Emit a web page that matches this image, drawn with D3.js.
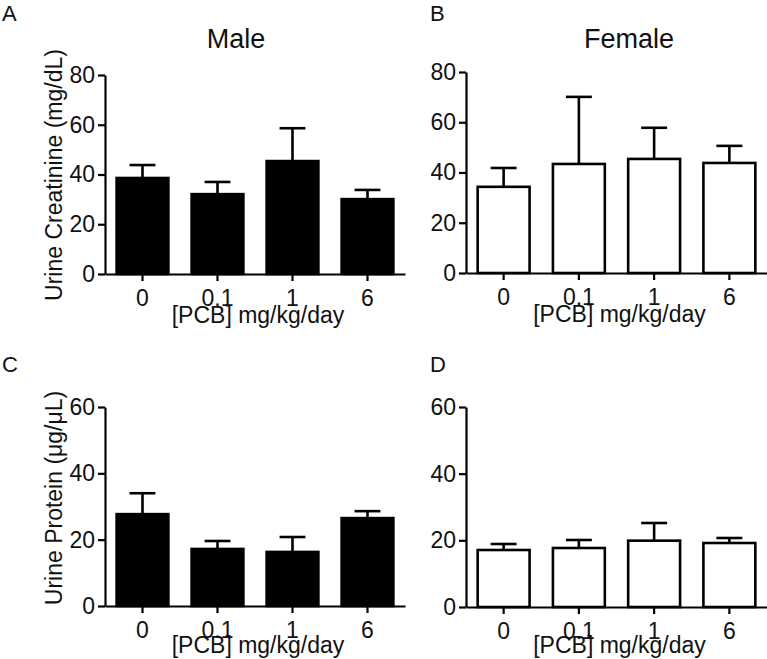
<!DOCTYPE html>
<html>
<head>
<meta charset="utf-8">
<script src="https://cdn.jsdelivr.net/npm/d3@7"></script>
<style>
  html, body { margin: 0; padding: 0; background: #fff; }
  svg { display: block; font-family: "Liberation Sans", Arial, Helvetica, sans-serif; }
</style>
</head>
<body>
<svg id="chart" width="767" height="659"></svg>
<script>
// ---- data ----
const doses = ["0", "0.1", "1", "6"];
const maleCreatinine = [38.6, 32.1, 45.4, 30.1];
const maleCreatinineSEM = [5.2, 4.9, 13.2, 3.7];
const femaleCreatinine = [34.3, 43.4, 45.4, 43.8];
const femaleCreatinineSEM = [7.5, 26.7, 12.4, 6.8];
const maleProtein = [27.7, 17.2, 16.3, 26.5];
const maleProteinSEM = [6.3, 2.4, 4.5, 2.1];
const femaleProtein = [17.1, 17.7, 19.9, 19.2];
const femaleProteinSEM = [1.8, 2.4, 5.3, 1.5];
const creatinineTicks = [0, 20, 40, 60, 80];
const proteinTicks = [0, 20, 40, 60];
const xTitle = "[PCB] mg/kg/day";

const svg = d3.select("#chart");
const FS = 23;

const panels = [
  { letter: "A", lx: 2, ly: 21, title: "Male", tx: 236, ty: 48,
    values: maleCreatinine, sem: maleCreatinineSEM, ticks: creatinineTicks, ymax: 80,
    x0: 105, x1: 405, y0: 274, y1: 75, fill: "#000", xtOff: 49,
    ytitle: "Urine Creatinine (mg/dL)", ytx: 62, yty: 175 },
  { letter: "B", lx: 430, ly: 21, title: "Female", tx: 629, ty: 48,
    values: femaleCreatinine, sem: femaleCreatinineSEM, ticks: creatinineTicks, ymax: 80,
    x0: 466, x1: 767, y0: 273, y1: 72, fill: "#fff", xtOff: 49, ytitle: null },
  { letter: "C", lx: 2, ly: 372, title: null,
    values: maleProtein, sem: maleProteinSEM, ticks: proteinTicks, ymax: 60,
    x0: 105, x1: 405, y0: 606, y1: 407, fill: "#000", xtOff: 47,
    ytitle: "Urine Protein (\u03BCg/\u03BCL)", ytx: 62, yty: 498 },
  { letter: "D", lx: 430, ly: 372, title: null,
    values: femaleProtein, sem: femaleProteinSEM, ticks: proteinTicks, ymax: 60,
    x0: 466, x1: 767, y0: 607, y1: 407, fill: "#fff", xtOff: 46, ytitle: null }
];

panels.forEach(p => {
  const g = svg.append("g");
  const x = d3.scaleBand().domain(doses).range([p.x0, p.x1]).padding(0);
  const y = d3.scaleLinear().domain([0, p.ymax]).range([p.y0, p.y1]);
  const bw = x.bandwidth() * 0.69;
  const capW = bw / 2;

  // panel letter
  g.append("text").attr("x", p.lx).attr("y", p.ly)
    .attr("font-size", 22).attr("fill", "#111").text(p.letter);

  if (p.title) {
    g.append("text").attr("x", p.tx).attr("y", p.ty)
      .attr("text-anchor", "middle").attr("font-size", 27).attr("fill", "#111").text(p.title);
  }

  // error bars (upper only)
  const eb = g.append("g").attr("stroke", "#000").attr("stroke-width", 2.6).attr("fill", "none");
  doses.forEach((d, i) => {
    const cx = x(d) + x.bandwidth() / 2;
    const top = y(p.values[i] + p.sem[i]);
    eb.append("line").attr("x1", cx).attr("x2", cx).attr("y1", y(p.values[i])).attr("y2", top);
    eb.append("line").attr("x1", cx - capW / 2).attr("x2", cx + capW / 2).attr("y1", top).attr("y2", top);
  });

  // bars
  g.append("g").selectAll("rect").data(p.values).join("rect")
    .attr("x", (v, i) => x(doses[i]) + (x.bandwidth() - bw) / 2)
    .attr("width", bw)
    .attr("y", v => y(v))
    .attr("height", v => p.y0 - y(v))
    .attr("fill", p.fill)
    .attr("stroke", "#000")
    .attr("stroke-width", 2.6);

  // y axis
  const ya = g.append("g").attr("transform", `translate(${p.x0},0)`)
    .call(d3.axisLeft(y).tickValues(p.ticks).tickSize(7).tickSizeOuter(0).tickPadding(3));
  ya.selectAll("path,line").attr("stroke", "#000").attr("stroke-width", 2.2);
  ya.selectAll("text").attr("font-size", FS).attr("fill", "#111")
    .attr("font-family", "Liberation Sans, Arial, sans-serif");

  // x axis
  const xa = g.append("g").attr("transform", `translate(0,${p.y0})`)
    .call(d3.axisBottom(x).tickSize(7).tickSizeOuter(0).tickPadding(9));
  xa.selectAll("path,line").attr("stroke", "#000").attr("stroke-width", 2.2);
  xa.selectAll("text").attr("font-size", FS).attr("fill", "#111")
    .attr("font-family", "Liberation Sans, Arial, sans-serif");

  // x title
  g.append("text").attr("x", (p.x0 + p.x1) / 2 + 3).attr("y", p.y0 + p.xtOff)
    .attr("text-anchor", "middle").attr("font-size", FS).attr("fill", "#111").text(xTitle);

  // y title
  if (p.ytitle) {
    g.append("text").attr("transform", `translate(${p.ytx},${p.yty}) rotate(-90)`)
      .attr("text-anchor", "middle").attr("font-size", FS).attr("fill", "#111").text(p.ytitle);
  }
});
</script>
</body>
</html>
